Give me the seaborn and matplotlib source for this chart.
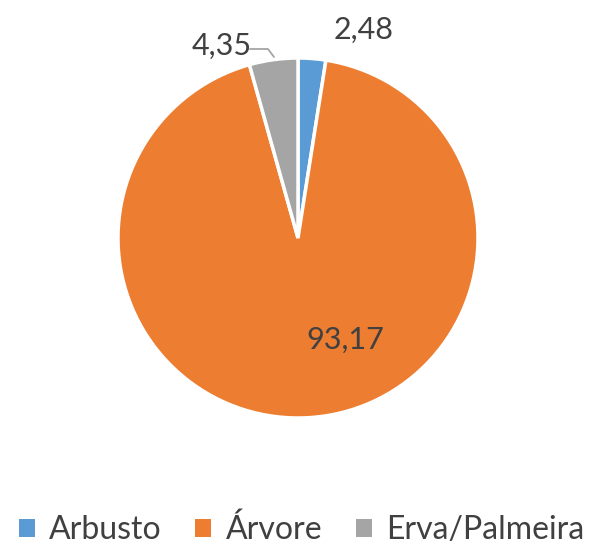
import matplotlib
matplotlib.use("Agg")
import matplotlib.pyplot as plt
import seaborn as sns
from matplotlib.patches import Patch

categories = ["Arbusto", "Árvore", "Erva/Palmeira"]
values = [2.48, 93.17, 4.35]
labels = ["2,48", "93,17", "4,35"]
colors = ["#5B9BD5", "#ED7D31", "#A5A5A5"]

sns.set_theme(style="white")
plt.rcParams['font.family'] = ['Lato', 'DejaVu Sans']

W, H = 603, 546
fig = plt.figure(figsize=(W / 100, H / 100), dpi=100)
cx, cy, r = 298, 238, 180
ax = fig.add_axes([(cx - r) / W, (H - cy - r) / H, 2 * r / W, 2 * r / H])
wedges, _ = ax.pie(values, colors=colors, startangle=90, counterclock=False,
                   wedgeprops=dict(edgecolor="white", linewidth=2.5), radius=1)
ax.set_xlim(-1, 1)
ax.set_ylim(-1, 1)
ax.set_aspect("equal")
ax.axis("off")

tc = "#404040"
fs = 22
def px(x, y):
    return ((x - cx) / r, (cy - y) / r)

ax.text(*px(364, 30), labels[0], ha="center", va="center", fontsize=fs, color=tc, clip_on=False)
ax.text(*px(345, 340), labels[1], ha="center", va="center", fontsize=fs, color=tc)
ax.text(*px(222, 46), labels[2], ha="center", va="center", fontsize=fs, color=tc, clip_on=False)
lx = [px(250, 49)[0], px(268, 49)[0], px(274, 57)[0]]
ly = [px(250, 49)[1], px(268, 49)[1], px(274, 57)[1]]
ax.plot(lx, ly, color="#A5A5A5", lw=1.3, clip_on=False)

handles = [Patch(facecolor=c, edgecolor="none") for c in colors]
fig.legend(handles, categories, loc="center", bbox_to_anchor=(0.5, 1 - 530 / H), ncol=3,
           frameon=False, fontsize=23, handlelength=0.5, handleheight=0.5,
           handletextpad=0.45, columnspacing=1.05, labelcolor=tc)

fig.savefig("out.png", dpi=100, facecolor="white")
